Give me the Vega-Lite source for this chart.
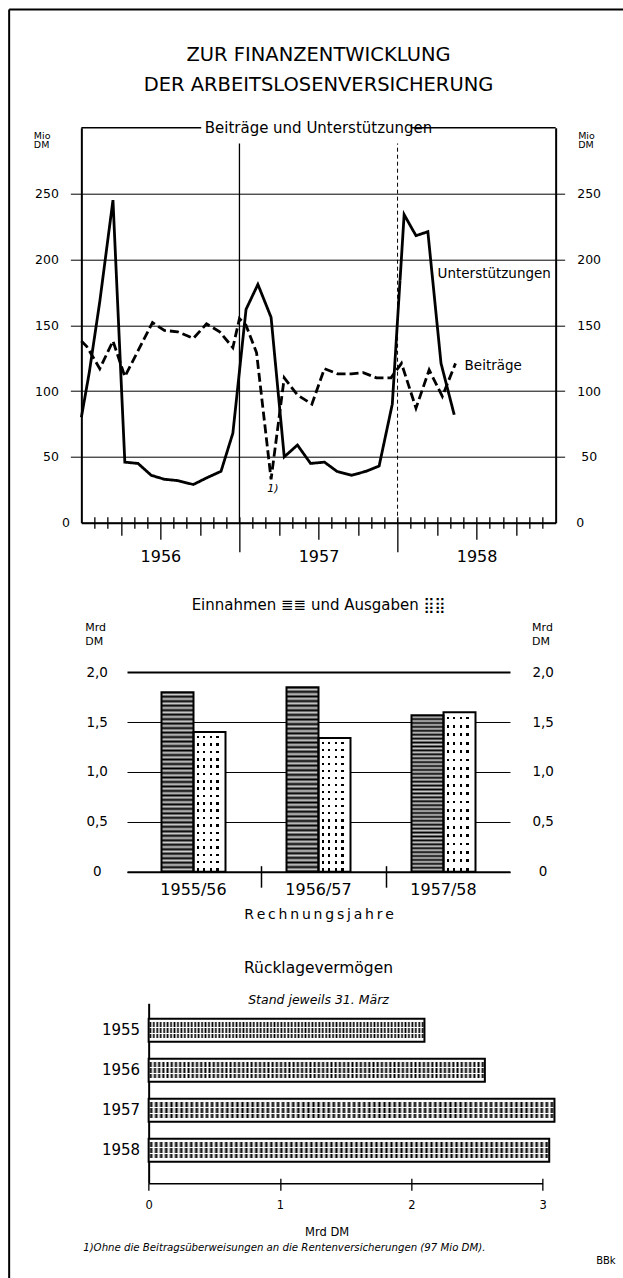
{
"$schema": "https://vega.github.io/schema/vega-lite/v6.json",
"background": "white",
"padding": {"left": 5, "top": 8.7, "right": 0, "bottom": 0},
"config": {
  "font": "DejaVu Sans",
  "view": {"stroke": null},
  "axis": {"labelColor": "#000", "titleColor": "#000", "domainColor": "#000", "tickColor": "#000", "gridColor": "#000", "labelFont": "DejaVu Sans", "titleFont": "DejaVu Sans", "titleFontWeight": "normal", "grid": false, "labelOverlap": false},
  "title": {"color": "#000", "subtitleColor": "#000", "fontWeight": "normal", "font": "DejaVu Sans", "subtitleFont": "DejaVu Sans"},
  "text": {"font": "DejaVu Sans", "color": "#000"}
},
"spacing": 131.3,
"bounds": "flush",
"center": true,
"vconcat": [
{
  "width": 474.3,
  "height": 395,
  "title": {"text": ["ZUR FINANZENTWICKLUNG", "DER ARBEITSLOSENVERSICHERUNG"], "fontSize": 19.5, "lineHeight": 30, "offset": -86.3, "anchor": "middle"},
  "resolve": {"scale": {"x": "independent", "y": "independent"}, "axis": {"x": "independent", "y": "independent"}},
  "layer": [
  {
    "data": {"values": [{}]},
    "mark": {"type": "point", "opacity": 0},
    "encoding": {
      "x": {"datum": 0, "type": "quantitative", "scale": {"domain": [0, 1], "range": [-72.7, 541.3]}, "axis": {"orient": "top", "offset": 118.7, "domain": true, "domainWidth": 2, "ticks": false, "labels": false, "grid": false, "title": null}},
      "y": {"datum": 0, "type": "quantitative", "scale": {"domain": [0, 1], "range": [1150.3, -118.7]}, "axis": {"orient": "left", "offset": 72.7, "domain": true, "domainWidth": 2, "ticks": false, "labels": false, "grid": false, "title": null}}
    }
  },
  {
  "data": {"values": [
    {"reihe": "Unterstützungen", "monat": 0, "wert": 80},
    {"reihe": "Unterstützungen", "monat": 0.6, "wert": 114},
    {"reihe": "Unterstützungen", "monat": 1.4, "wert": 168},
    {"reihe": "Unterstützungen", "monat": 2.4, "wert": 245},
    {"reihe": "Unterstützungen", "monat": 3.3, "wert": 46},
    {"reihe": "Unterstützungen", "monat": 4.3, "wert": 45},
    {"reihe": "Unterstützungen", "monat": 5.3, "wert": 36},
    {"reihe": "Unterstützungen", "monat": 6.3, "wert": 33},
    {"reihe": "Unterstützungen", "monat": 7.3, "wert": 32},
    {"reihe": "Unterstützungen", "monat": 8.5, "wert": 29},
    {"reihe": "Unterstützungen", "monat": 9.5, "wert": 34},
    {"reihe": "Unterstützungen", "monat": 10.6, "wert": 39},
    {"reihe": "Unterstützungen", "monat": 11.5, "wert": 68},
    {"reihe": "Unterstützungen", "monat": 12.5, "wert": 162},
    {"reihe": "Unterstützungen", "monat": 13.4, "wert": 181},
    {"reihe": "Unterstützungen", "monat": 14.4, "wert": 156},
    {"reihe": "Unterstützungen", "monat": 15.4, "wert": 50},
    {"reihe": "Unterstützungen", "monat": 16.4, "wert": 59},
    {"reihe": "Unterstützungen", "monat": 17.4, "wert": 45},
    {"reihe": "Unterstützungen", "monat": 18.45, "wert": 46},
    {"reihe": "Unterstützungen", "monat": 19.4, "wert": 39},
    {"reihe": "Unterstützungen", "monat": 20.5, "wert": 36},
    {"reihe": "Unterstützungen", "monat": 21.6, "wert": 39},
    {"reihe": "Unterstützungen", "monat": 22.6, "wert": 43},
    {"reihe": "Unterstützungen", "monat": 23.6, "wert": 90},
    {"reihe": "Unterstützungen", "monat": 24.5, "wert": 234},
    {"reihe": "Unterstützungen", "monat": 25.4, "wert": 218},
    {"reihe": "Unterstützungen", "monat": 26.3, "wert": 221},
    {"reihe": "Unterstützungen", "monat": 27.3, "wert": 121},
    {"reihe": "Unterstützungen", "monat": 28.3, "wert": 82},
    {"reihe": "Beiträge", "monat": 0, "wert": 138},
    {"reihe": "Beiträge", "monat": 0.4, "wert": 134},
    {"reihe": "Beiträge", "monat": 1.4, "wert": 117},
    {"reihe": "Beiträge", "monat": 2.4, "wert": 138},
    {"reihe": "Beiträge", "monat": 3.3, "wert": 111},
    {"reihe": "Beiträge", "monat": 5.4, "wert": 152},
    {"reihe": "Beiträge", "monat": 6.3, "wert": 146},
    {"reihe": "Beiträge", "monat": 7.3, "wert": 145},
    {"reihe": "Beiträge", "monat": 8.5, "wert": 140},
    {"reihe": "Beiträge", "monat": 9.5, "wert": 151},
    {"reihe": "Beiträge", "monat": 10.5, "wert": 145},
    {"reihe": "Beiträge", "monat": 11.5, "wert": 133},
    {"reihe": "Beiträge", "monat": 12.0, "wert": 155},
    {"reihe": "Beiträge", "monat": 12.5, "wert": 150},
    {"reihe": "Beiträge", "monat": 13.3, "wert": 129},
    {"reihe": "Beiträge", "monat": 14.4, "wert": 33},
    {"reihe": "Beiträge", "monat": 15.4, "wert": 110},
    {"reihe": "Beiträge", "monat": 16.4, "wert": 97},
    {"reihe": "Beiträge", "monat": 17.5, "wert": 90},
    {"reihe": "Beiträge", "monat": 18.45, "wert": 117},
    {"reihe": "Beiträge", "monat": 19.45, "wert": 113},
    {"reihe": "Beiträge", "monat": 20.5, "wert": 113},
    {"reihe": "Beiträge", "monat": 21.4, "wert": 114},
    {"reihe": "Beiträge", "monat": 22.4, "wert": 110},
    {"reihe": "Beiträge", "monat": 23.5, "wert": 110},
    {"reihe": "Beiträge", "monat": 24.3, "wert": 121},
    {"reihe": "Beiträge", "monat": 25.4, "wert": 87},
    {"reihe": "Beiträge", "monat": 26.4, "wert": 116},
    {"reihe": "Beiträge", "monat": 27.4, "wert": 96},
    {"reihe": "Beiträge", "monat": 28.4, "wert": 121}
  ]},
  "resolve": {"axis": {"x": "independent", "y": "independent"}},
  "layer": [
    {
      "data": {"values": [{}]},
      "mark": {"type": "rule", "color": "#000", "strokeWidth": 1.5},
      "encoding": {
        "x": {"datum": 0, "type": "quantitative", "scale": {"domain": [0, 36], "nice": false, "zero": false}, "axis": null},
        "x2": {"datum": 9.1},
        "y": {"datum": 300, "type": "quantitative", "scale": {"domain": [0, 300], "nice": false}, "axis": null}
      }
    },
    {
      "data": {"values": [{}]},
      "mark": {"type": "rule", "color": "#000", "strokeWidth": 1.5},
      "encoding": {
        "x": {"datum": 25.0, "type": "quantitative", "axis": null},
        "x2": {"datum": 36},
        "y": {"datum": 300, "type": "quantitative", "axis": null}
      }
    },
    {
      "data": {"values": [{}]},
      "mark": {"type": "rule", "color": "#000", "strokeWidth": 1.3},
      "encoding": {
        "x": {"datum": 12, "type": "quantitative", "axis": {"orient": "bottom", "values": [6, 18, 30], "labelExpr": "datum.value == 6 ? '1956' : datum.value == 18 ? '1957' : '1958'", "ticks": false, "domain": false, "grid": false, "labelPadding": 26, "labelFontSize": 16, "labelFlush": false, "title": null}},
        "y": {"datum": 0, "type": "quantitative", "axis": null},
        "y2": {"datum": 288}
      }
    },
    {
      "data": {"values": [{}]},
      "mark": {"type": "rule", "color": "#000", "strokeWidth": 1, "strokeDash": [4, 3]},
      "encoding": {
        "x": {"datum": 24, "type": "quantitative", "axis": {"orient": "top", "offset": -395, "values": [1,2,3,4,5,6,7,8,9,10,11,12,13,14,15,16,17,18,19,20,21,22,23,24,25,26,27,28,29,30,31,32,33,34,35], "labels": false, "domain": false, "ticks": true, "tickSize": 6, "tickWidth": 1.3, "grid": false, "title": null}},
        "y": {"datum": 0, "type": "quantitative", "axis": null},
        "y2": {"datum": 288}
      }
    },
    {
      "mark": {"type": "line", "color": "#000", "strokeWidth": 2.8},
      "encoding": {
        "x": {"field": "monat", "type": "quantitative", "axis": {"orient": "bottom", "values": [1,2,3,4,5,6,7,8,9,10,11,12,13,14,15,16,17,18,19,20,21,22,23,24,25,26,27,28,29,30,31,32,33,34,35], "labels": false, "ticks": true, "tickSize": {"condition": [{"test": "datum.value % 12 == 0", "value": 29}, {"test": "datum.value % 6 == 0", "value": 16.5}, {"test": "datum.value % 3 == 0", "value": 12.5}], "value": 5.5}, "tickWidth": 1.3, "domain": true, "domainWidth": 2, "grid": false, "title": null}},
        "y": {"field": "wert", "type": "quantitative", "axis": {"orient": "left", "values": [0, 50, 100, 150, 200, 250], "grid": true, "gridWidth": 1, "tickSize": {"condition": {"test": "datum.value == 0", "value": 0}, "value": 11}, "tickWidth": 1, "labelPadding": 12, "labelFontSize": 12.5, "domain": true, "domainWidth": 2, "title": ["Mio", "DM"], "titleAngle": 0, "titleAlign": "left", "titleBaseline": "top", "titleX": -48, "titleY": 3, "titleFontSize": 9.5, "titleLineHeight": 9}},
        "detail": {"field": "reihe"},
        "strokeDash": {"field": "reihe", "type": "nominal", "scale": {"domain": ["Unterstützungen", "Beiträge"], "range": [[1, 0], [9, 4]]}, "legend": null}
      }
    },
    {
      "data": {"values": [{}]},
      "mark": {"type": "text", "fontSize": 15, "baseline": "middle", "align": "center"},
      "encoding": {
        "x": {"datum": 18, "type": "quantitative", "axis": null},
        "y": {"datum": 300, "type": "quantitative", "axis": {"orient": "right", "values": [0, 50, 100, 150, 200, 250], "grid": false, "tickSize": {"condition": {"test": "datum.value == 0", "value": 0}, "value": 9}, "tickWidth": 1, "labelPadding": 24, "labelAlign": "center", "labelFontSize": 12.5, "domain": true, "domainWidth": 2, "title": ["Mio", "DM"], "titleAngle": 0, "titleAlign": "left", "titleBaseline": "top", "titleX": 22, "titleY": 3, "titleFontSize": 9.5, "titleLineHeight": 9}},
        "text": {"value": "Beiträge und Unterstützungen"}
      }
    },
    {
      "data": {"values": [{}]},
      "mark": {"type": "text", "fontSize": 13.5, "baseline": "alphabetic", "align": "left"},
      "encoding": {
        "x": {"datum": 27.04, "type": "quantitative", "axis": null},
        "y": {"datum": 186, "type": "quantitative", "axis": null},
        "text": {"value": "Unterstützungen"}
      }
    },
    {
      "data": {"values": [{}]},
      "mark": {"type": "text", "fontSize": 13.5, "baseline": "alphabetic", "align": "left"},
      "encoding": {
        "x": {"datum": 29.09, "type": "quantitative", "axis": null},
        "y": {"datum": 116, "type": "quantitative", "axis": null},
        "text": {"value": "Beiträge"}
      }
    },
    {
      "data": {"values": [{}]},
      "mark": {"type": "text", "fontSize": 11, "fontStyle": "italic", "baseline": "middle", "align": "center"},
      "encoding": {
        "x": {"datum": 14.54, "type": "quantitative", "axis": null},
        "y": {"datum": 25.6, "type": "quantitative", "axis": null},
        "text": {"value": "1)"}
      }
    }
  ]
  }
  ]
},
{
  "width": 383,
  "height": 217.7,
  "title": {"text": "Einnahmen ≣≣ und Ausgaben ⣿⣿", "fontSize": 15, "offset": 9, "anchor": "middle"},
  "data": {"values": [
    {"jahr": "1955/56", "art": "Einnahmen", "wert": 1.80},
    {"jahr": "1955/56", "art": "Ausgaben", "wert": 1.40},
    {"jahr": "1956/57", "art": "Einnahmen", "wert": 1.85},
    {"jahr": "1956/57", "art": "Ausgaben", "wert": 1.34},
    {"jahr": "1957/58", "art": "Einnahmen", "wert": 1.57},
    {"jahr": "1957/58", "art": "Ausgaben", "wert": 1.60}
  ]},
  "resolve": {"axis": {"x": "independent", "y": "independent"}},
  "layer": [
    {
      "transform": [{"filter": "datum.art == 'Einnahmen'"}],
      "mark": {"type": "bar", "fill": {"gradient": "linear", "x1": 0, "y1": 0, "x2": 0, "y2": 1, "stops": [
        {"offset": 0, "color": "#000"}, {"offset": 0.0125, "color": "#ccc"}, {"offset": 0.025, "color": "#000"}, {"offset": 0.0375, "color": "#ccc"}, {"offset": 0.05, "color": "#000"}, {"offset": 0.0625, "color": "#ccc"}, {"offset": 0.075, "color": "#000"}, {"offset": 0.0875, "color": "#ccc"},
        {"offset": 0.1, "color": "#000"}, {"offset": 0.1125, "color": "#ccc"}, {"offset": 0.125, "color": "#000"}, {"offset": 0.1375, "color": "#ccc"}, {"offset": 0.15, "color": "#000"}, {"offset": 0.1625, "color": "#ccc"}, {"offset": 0.175, "color": "#000"}, {"offset": 0.1875, "color": "#ccc"},
        {"offset": 0.2, "color": "#000"}, {"offset": 0.2125, "color": "#ccc"}, {"offset": 0.225, "color": "#000"}, {"offset": 0.2375, "color": "#ccc"}, {"offset": 0.25, "color": "#000"}, {"offset": 0.2625, "color": "#ccc"}, {"offset": 0.275, "color": "#000"}, {"offset": 0.2875, "color": "#ccc"},
        {"offset": 0.3, "color": "#000"}, {"offset": 0.3125, "color": "#ccc"}, {"offset": 0.325, "color": "#000"}, {"offset": 0.3375, "color": "#ccc"}, {"offset": 0.35, "color": "#000"}, {"offset": 0.3625, "color": "#ccc"}, {"offset": 0.375, "color": "#000"}, {"offset": 0.3875, "color": "#ccc"},
        {"offset": 0.4, "color": "#000"}, {"offset": 0.4125, "color": "#ccc"}, {"offset": 0.425, "color": "#000"}, {"offset": 0.4375, "color": "#ccc"}, {"offset": 0.45, "color": "#000"}, {"offset": 0.4625, "color": "#ccc"}, {"offset": 0.475, "color": "#000"}, {"offset": 0.4875, "color": "#ccc"},
        {"offset": 0.5, "color": "#000"}, {"offset": 0.5125, "color": "#ccc"}, {"offset": 0.525, "color": "#000"}, {"offset": 0.5375, "color": "#ccc"}, {"offset": 0.55, "color": "#000"}, {"offset": 0.5625, "color": "#ccc"}, {"offset": 0.575, "color": "#000"}, {"offset": 0.5875, "color": "#ccc"},
        {"offset": 0.6, "color": "#000"}, {"offset": 0.6125, "color": "#ccc"}, {"offset": 0.625, "color": "#000"}, {"offset": 0.6375, "color": "#ccc"}, {"offset": 0.65, "color": "#000"}, {"offset": 0.6625, "color": "#ccc"}, {"offset": 0.675, "color": "#000"}, {"offset": 0.6875, "color": "#ccc"},
        {"offset": 0.7, "color": "#000"}, {"offset": 0.7125, "color": "#ccc"}, {"offset": 0.725, "color": "#000"}, {"offset": 0.7375, "color": "#ccc"}, {"offset": 0.75, "color": "#000"}, {"offset": 0.7625, "color": "#ccc"}, {"offset": 0.775, "color": "#000"}, {"offset": 0.7875, "color": "#ccc"},
        {"offset": 0.8, "color": "#000"}, {"offset": 0.8125, "color": "#ccc"}, {"offset": 0.825, "color": "#000"}, {"offset": 0.8375, "color": "#ccc"}, {"offset": 0.85, "color": "#000"}, {"offset": 0.8625, "color": "#ccc"}, {"offset": 0.875, "color": "#000"}, {"offset": 0.8875, "color": "#ccc"},
        {"offset": 0.9, "color": "#000"}, {"offset": 0.9125, "color": "#ccc"}, {"offset": 0.925, "color": "#000"}, {"offset": 0.9375, "color": "#ccc"}, {"offset": 0.95, "color": "#000"}, {"offset": 0.9625, "color": "#ccc"}, {"offset": 0.975, "color": "#000"}, {"offset": 0.9875, "color": "#ccc"},
        {"offset": 1, "color": "#000"}
      ]}},
      "encoding": {
        "x": {"field": "jahr", "type": "nominal", "scale": {"domain": ["1955/56", "1956/57", "1957/58"], "paddingInner": 0.488, "paddingOuter": 0.276}, "axis": {"orient": "bottom", "values": ["1956/57", "1957/58"], "bandPosition": -0.39, "labels": false, "domain": false, "ticks": true, "tickSize": 15.5, "tickWidth": 1.5, "grid": false, "title": null}},
        "xOffset": {"field": "art", "type": "nominal", "scale": {"domain": ["Einnahmen", "Ausgaben"], "paddingInner": 0, "paddingOuter": 0}},
        "y": {"field": "wert", "type": "quantitative", "scale": {"domain": [0, 2.1835], "nice": false, "zero": true}, "axis": {"orient": "right", "values": [0, 0.5, 1, 1.5, 2], "labelExpr": "datum.value == 0 ? '0' : replace(format(datum.value, '.1f'), '.', ',')", "labelAlign": "center", "labelPadding": 32.6, "labelFontSize": 13.5, "ticks": false, "domain": false, "grid": false, "title": ["Mrd", "DM"], "titleAngle": 0, "titleAlign": "left", "titleBaseline": "top", "titleX": 21.6, "titleY": -32.3, "titleFontSize": 11, "titleLineHeight": 13.5}}
      }
    },
    {
      "transform": [{"filter": "datum.art == 'Ausgaben'"}],
      "mark": {"type": "bar", "fill": {"gradient": "linear", "x1": 0, "y1": 0, "x2": 1, "y2": 0, "stops": [
        {"offset": 0, "color": "#fff"}, {"offset": 0.0975, "color": "#fff"}, {"offset": 0.0975, "color": "#000"}, {"offset": 0.1725, "color": "#000"}, {"offset": 0.1725, "color": "#fff"}, {"offset": 0.2995, "color": "#fff"}, {"offset": 0.2995, "color": "#000"}, {"offset": 0.3745, "color": "#000"}, {"offset": 0.3745, "color": "#fff"}, {"offset": 0.5025, "color": "#fff"}, {"offset": 0.5025, "color": "#000"}, {"offset": 0.5775, "color": "#000"}, {"offset": 0.5775, "color": "#fff"}, {"offset": 0.7075, "color": "#fff"}, {"offset": 0.7075, "color": "#000"}, {"offset": 0.7825, "color": "#000"}, {"offset": 0.7825, "color": "#fff"}, {"offset": 1, "color": "#fff"}
      ]}},
      "encoding": {
        "x": {"field": "jahr", "type": "nominal", "axis": {"orient": "top", "offset": -217.7, "values": ["1956/57", "1957/58"], "bandPosition": -0.39, "labels": false, "domain": false, "ticks": true, "tickSize": 6, "tickWidth": 1.5, "grid": false, "title": null}},
        "xOffset": {"field": "art", "type": "nominal"},
        "y": {"field": "wert", "type": "quantitative", "axis": null}
      }
    },
    {
      "transform": [{"filter": "datum.art == 'Ausgaben'"}],
      "mark": {"type": "bar", "fill": {"gradient": "linear", "x1": 0, "y1": 0, "x2": 0, "y2": 1, "stops": [
        {"offset": 0, "color": "#fff"}, {"offset": 0.028, "color": "#fff"}, {"offset": 0.028, "color": "rgba(255,255,255,0)"}, {"offset": 0.0455, "color": "rgba(255,255,255,0)"}, {"offset": 0.0455, "color": "#fff"},
        {"offset": 0.0806, "color": "#fff"}, {"offset": 0.0806, "color": "rgba(255,255,255,0)"}, {"offset": 0.0981, "color": "rgba(255,255,255,0)"}, {"offset": 0.0981, "color": "#fff"},
        {"offset": 0.1333, "color": "#fff"}, {"offset": 0.1333, "color": "rgba(255,255,255,0)"}, {"offset": 0.1508, "color": "rgba(255,255,255,0)"}, {"offset": 0.1508, "color": "#fff"},
        {"offset": 0.1859, "color": "#fff"}, {"offset": 0.1859, "color": "rgba(255,255,255,0)"}, {"offset": 0.2034, "color": "rgba(255,255,255,0)"}, {"offset": 0.2034, "color": "#fff"},
        {"offset": 0.2385, "color": "#fff"}, {"offset": 0.2385, "color": "rgba(255,255,255,0)"}, {"offset": 0.256, "color": "rgba(255,255,255,0)"}, {"offset": 0.256, "color": "#fff"},
        {"offset": 0.2912, "color": "#fff"}, {"offset": 0.2912, "color": "rgba(255,255,255,0)"}, {"offset": 0.3087, "color": "rgba(255,255,255,0)"}, {"offset": 0.3087, "color": "#fff"},
        {"offset": 0.3438, "color": "#fff"}, {"offset": 0.3438, "color": "rgba(255,255,255,0)"}, {"offset": 0.3613, "color": "rgba(255,255,255,0)"}, {"offset": 0.3613, "color": "#fff"},
        {"offset": 0.3964, "color": "#fff"}, {"offset": 0.3964, "color": "rgba(255,255,255,0)"}, {"offset": 0.4139, "color": "rgba(255,255,255,0)"}, {"offset": 0.4139, "color": "#fff"},
        {"offset": 0.4491, "color": "#fff"}, {"offset": 0.4491, "color": "rgba(255,255,255,0)"}, {"offset": 0.4666, "color": "rgba(255,255,255,0)"}, {"offset": 0.4666, "color": "#fff"},
        {"offset": 0.5017, "color": "#fff"}, {"offset": 0.5017, "color": "rgba(255,255,255,0)"}, {"offset": 0.5192, "color": "rgba(255,255,255,0)"}, {"offset": 0.5192, "color": "#fff"},
        {"offset": 0.5543, "color": "#fff"}, {"offset": 0.5543, "color": "rgba(255,255,255,0)"}, {"offset": 0.5718, "color": "rgba(255,255,255,0)"}, {"offset": 0.5718, "color": "#fff"},
        {"offset": 0.6069, "color": "#fff"}, {"offset": 0.6069, "color": "rgba(255,255,255,0)"}, {"offset": 0.6244, "color": "rgba(255,255,255,0)"}, {"offset": 0.6244, "color": "#fff"},
        {"offset": 0.6596, "color": "#fff"}, {"offset": 0.6596, "color": "rgba(255,255,255,0)"}, {"offset": 0.6771, "color": "rgba(255,255,255,0)"}, {"offset": 0.6771, "color": "#fff"},
        {"offset": 0.7122, "color": "#fff"}, {"offset": 0.7122, "color": "rgba(255,255,255,0)"}, {"offset": 0.7297, "color": "rgba(255,255,255,0)"}, {"offset": 0.7297, "color": "#fff"},
        {"offset": 0.7648, "color": "#fff"}, {"offset": 0.7648, "color": "rgba(255,255,255,0)"}, {"offset": 0.7823, "color": "rgba(255,255,255,0)"}, {"offset": 0.7823, "color": "#fff"},
        {"offset": 0.8175, "color": "#fff"}, {"offset": 0.8175, "color": "rgba(255,255,255,0)"}, {"offset": 0.835, "color": "rgba(255,255,255,0)"}, {"offset": 0.835, "color": "#fff"},
        {"offset": 0.8701, "color": "#fff"}, {"offset": 0.8701, "color": "rgba(255,255,255,0)"}, {"offset": 0.8876, "color": "rgba(255,255,255,0)"}, {"offset": 0.8876, "color": "#fff"},
        {"offset": 0.9227, "color": "#fff"}, {"offset": 0.9227, "color": "rgba(255,255,255,0)"}, {"offset": 0.9402, "color": "rgba(255,255,255,0)"}, {"offset": 0.9402, "color": "#fff"},
        {"offset": 0.9754, "color": "#fff"}, {"offset": 0.9754, "color": "rgba(255,255,255,0)"}, {"offset": 0.9929, "color": "rgba(255,255,255,0)"}, {"offset": 0.9929, "color": "#fff"},
        {"offset": 1, "color": "#fff"}
      ]}},
      "encoding": {
        "x": {"field": "jahr", "type": "nominal", "axis": null},
        "xOffset": {"field": "art", "type": "nominal"},
        "y": {"field": "wert", "type": "quantitative", "axis": null}
      }
    },
    {
      "mark": {"type": "bar", "filled": false, "color": "#000", "strokeWidth": 2},
      "encoding": {
        "x": {"field": "jahr", "type": "nominal", "axis": {"orient": "bottom", "labelFontSize": 16, "labelPadding": 10, "labelAngle": 0, "ticks": false, "domain": true, "domainWidth": 2, "grid": false, "title": "R\u2009e\u2009c\u2009h\u2009n\u2009u\u2009n\u2009g\u2009s\u2009j\u2009a\u2009h\u2009r\u2009e", "titleFontSize": 14, "titleBaseline": "top", "titleY": 35.5}},
        "xOffset": {"field": "art", "type": "nominal"},
        "y": {"field": "wert", "type": "quantitative", "axis": {"orient": "left", "values": [0, 0.5, 1, 1.5, 2], "labelExpr": "datum.value == 0 ? '0' : replace(format(datum.value, '.1f'), '.', ',')", "labelAlign": "center", "labelPadding": 30.3, "labelFontSize": 13.5, "ticks": false, "domain": false, "grid": true, "gridWidth": {"condition": {"test": "datum.value == 2", "value": 2}, "value": 1}, "title": ["Mrd", "DM"], "titleAngle": 0, "titleAlign": "left", "titleBaseline": "top", "titleX": -42.3, "titleY": -32.3, "titleFontSize": 11, "titleLineHeight": 13.5}}
      }
    }
  ]
},
{
  "width": 448.3,
  "height": 180,
  "title": {"text": "Rücklagevermögen", "subtitle": "Stand jeweils 31. März", "fontSize": 15.5, "subtitleFontSize": 12.5, "subtitleFontStyle": "italic", "subtitlePadding": 17, "offset": -3, "anchor": "middle"},
  "data": {"values": [
    {"jahr": "1955", "wert": 2.10},
    {"jahr": "1956", "wert": 2.56},
    {"jahr": "1957", "wert": 3.09},
    {"jahr": "1958", "wert": 3.05}
  ]},
  "resolve": {"axis": {"x": "independent", "y": "independent"}},
  "layer": [
    {
      "mark": {"type": "bar", "fill": {"gradient": "linear", "x1": 0, "y1": 0, "x2": 0, "y2": 1, "stops": [
        {"offset": 0, "color": "#fff"}, {"offset": 0.15, "color": "#fff"}, {"offset": 0.15, "color": "#000"}, {"offset": 0.35, "color": "#000"}, {"offset": 0.35, "color": "#fff"}, {"offset": 0.4, "color": "#fff"}, {"offset": 0.4, "color": "#000"}, {"offset": 0.6, "color": "#000"}, {"offset": 0.6, "color": "#fff"}, {"offset": 0.65, "color": "#fff"}, {"offset": 0.65, "color": "#000"}, {"offset": 0.85, "color": "#000"}, {"offset": 0.85, "color": "#fff"}, {"offset": 1, "color": "#fff"}
      ]}},
      "encoding": {
        "x": {"field": "wert", "type": "quantitative", "scale": {"domain": [0, 3], "range": [54.3, 448.3], "nice": false, "zero": true}, "axis": {"orient": "top", "offset": -180, "values": [1, 2, 3], "tickSize": 5, "tickWidth": 1.3, "labels": false, "domain": false, "grid": false, "title": null}},
        "y": {"field": "jahr", "type": "nominal", "scale": {"domain": ["1955", "1956", "1957", "1958"], "paddingInner": 0.425, "paddingOuter": 0.4625, "align": 0.419}, "axis": {"orient": "right", "labels": false, "ticks": false, "domain": false, "grid": false, "title": "BBk", "titleAngle": 0, "titleAlign": "left", "titleBaseline": "top", "titleX": 53, "titleY": 252, "titleFontSize": 10}}
      }
    },
    {
      "mark": {"type": "bar", "fill": {"gradient": "linear", "x1": 0, "y1": 0, "x2": 1, "y2": 0, "stops": [
        {"offset": 0, "color": "#fff"}, {"offset": 0.00625, "color": "rgba(255,255,255,0)"}, {"offset": 0.0125, "color": "#fff"}, {"offset": 0.01875, "color": "rgba(255,255,255,0)"}, {"offset": 0.025, "color": "#fff"}, {"offset": 0.03125, "color": "rgba(255,255,255,0)"}, {"offset": 0.0375, "color": "#fff"}, {"offset": 0.04375, "color": "rgba(255,255,255,0)"}, {"offset": 0.05, "color": "#fff"}, {"offset": 0.05625, "color": "rgba(255,255,255,0)"}, {"offset": 0.0625, "color": "#fff"}, {"offset": 0.06875, "color": "rgba(255,255,255,0)"}, {"offset": 0.075, "color": "#fff"}, {"offset": 0.08125, "color": "rgba(255,255,255,0)"}, {"offset": 0.0875, "color": "#fff"}, {"offset": 0.09375, "color": "rgba(255,255,255,0)"},
        {"offset": 0.1, "color": "#fff"}, {"offset": 0.10625, "color": "rgba(255,255,255,0)"}, {"offset": 0.1125, "color": "#fff"}, {"offset": 0.11875, "color": "rgba(255,255,255,0)"}, {"offset": 0.125, "color": "#fff"}, {"offset": 0.13125, "color": "rgba(255,255,255,0)"}, {"offset": 0.1375, "color": "#fff"}, {"offset": 0.14375, "color": "rgba(255,255,255,0)"}, {"offset": 0.15, "color": "#fff"}, {"offset": 0.15625, "color": "rgba(255,255,255,0)"}, {"offset": 0.1625, "color": "#fff"}, {"offset": 0.16875, "color": "rgba(255,255,255,0)"}, {"offset": 0.175, "color": "#fff"}, {"offset": 0.18125, "color": "rgba(255,255,255,0)"}, {"offset": 0.1875, "color": "#fff"}, {"offset": 0.19375, "color": "rgba(255,255,255,0)"},
        {"offset": 0.2, "color": "#fff"}, {"offset": 0.20625, "color": "rgba(255,255,255,0)"}, {"offset": 0.2125, "color": "#fff"}, {"offset": 0.21875, "color": "rgba(255,255,255,0)"}, {"offset": 0.225, "color": "#fff"}, {"offset": 0.23125, "color": "rgba(255,255,255,0)"}, {"offset": 0.2375, "color": "#fff"}, {"offset": 0.24375, "color": "rgba(255,255,255,0)"}, {"offset": 0.25, "color": "#fff"}, {"offset": 0.25625, "color": "rgba(255,255,255,0)"}, {"offset": 0.2625, "color": "#fff"}, {"offset": 0.26875, "color": "rgba(255,255,255,0)"}, {"offset": 0.275, "color": "#fff"}, {"offset": 0.28125, "color": "rgba(255,255,255,0)"}, {"offset": 0.2875, "color": "#fff"}, {"offset": 0.29375, "color": "rgba(255,255,255,0)"},
        {"offset": 0.3, "color": "#fff"}, {"offset": 0.30625, "color": "rgba(255,255,255,0)"}, {"offset": 0.3125, "color": "#fff"}, {"offset": 0.31875, "color": "rgba(255,255,255,0)"}, {"offset": 0.325, "color": "#fff"}, {"offset": 0.33125, "color": "rgba(255,255,255,0)"}, {"offset": 0.3375, "color": "#fff"}, {"offset": 0.34375, "color": "rgba(255,255,255,0)"}, {"offset": 0.35, "color": "#fff"}, {"offset": 0.35625, "color": "rgba(255,255,255,0)"}, {"offset": 0.3625, "color": "#fff"}, {"offset": 0.36875, "color": "rgba(255,255,255,0)"}, {"offset": 0.375, "color": "#fff"}, {"offset": 0.38125, "color": "rgba(255,255,255,0)"}, {"offset": 0.3875, "color": "#fff"}, {"offset": 0.39375, "color": "rgba(255,255,255,0)"},
        {"offset": 0.4, "color": "#fff"}, {"offset": 0.40625, "color": "rgba(255,255,255,0)"}, {"offset": 0.4125, "color": "#fff"}, {"offset": 0.41875, "color": "rgba(255,255,255,0)"}, {"offset": 0.425, "color": "#fff"}, {"offset": 0.43125, "color": "rgba(255,255,255,0)"}, {"offset": 0.4375, "color": "#fff"}, {"offset": 0.44375, "color": "rgba(255,255,255,0)"}, {"offset": 0.45, "color": "#fff"}, {"offset": 0.45625, "color": "rgba(255,255,255,0)"}, {"offset": 0.4625, "color": "#fff"}, {"offset": 0.46875, "color": "rgba(255,255,255,0)"}, {"offset": 0.475, "color": "#fff"}, {"offset": 0.48125, "color": "rgba(255,255,255,0)"}, {"offset": 0.4875, "color": "#fff"}, {"offset": 0.49375, "color": "rgba(255,255,255,0)"},
        {"offset": 0.5, "color": "#fff"}, {"offset": 0.50625, "color": "rgba(255,255,255,0)"}, {"offset": 0.5125, "color": "#fff"}, {"offset": 0.51875, "color": "rgba(255,255,255,0)"}, {"offset": 0.525, "color": "#fff"}, {"offset": 0.53125, "color": "rgba(255,255,255,0)"}, {"offset": 0.5375, "color": "#fff"}, {"offset": 0.54375, "color": "rgba(255,255,255,0)"}, {"offset": 0.55, "color": "#fff"}, {"offset": 0.55625, "color": "rgba(255,255,255,0)"}, {"offset": 0.5625, "color": "#fff"}, {"offset": 0.56875, "color": "rgba(255,255,255,0)"}, {"offset": 0.575, "color": "#fff"}, {"offset": 0.58125, "color": "rgba(255,255,255,0)"}, {"offset": 0.5875, "color": "#fff"}, {"offset": 0.59375, "color": "rgba(255,255,255,0)"},
        {"offset": 0.6, "color": "#fff"}, {"offset": 0.60625, "color": "rgba(255,255,255,0)"}, {"offset": 0.6125, "color": "#fff"}, {"offset": 0.61875, "color": "rgba(255,255,255,0)"}, {"offset": 0.625, "color": "#fff"}, {"offset": 0.63125, "color": "rgba(255,255,255,0)"}, {"offset": 0.6375, "color": "#fff"}, {"offset": 0.64375, "color": "rgba(255,255,255,0)"}, {"offset": 0.65, "color": "#fff"}, {"offset": 0.65625, "color": "rgba(255,255,255,0)"}, {"offset": 0.6625, "color": "#fff"}, {"offset": 0.66875, "color": "rgba(255,255,255,0)"}, {"offset": 0.675, "color": "#fff"}, {"offset": 0.68125, "color": "rgba(255,255,255,0)"}, {"offset": 0.6875, "color": "#fff"}, {"offset": 0.69375, "color": "rgba(255,255,255,0)"},
        {"offset": 0.7, "color": "#fff"}, {"offset": 0.70625, "color": "rgba(255,255,255,0)"}, {"offset": 0.7125, "color": "#fff"}, {"offset": 0.71875, "color": "rgba(255,255,255,0)"}, {"offset": 0.725, "color": "#fff"}, {"offset": 0.73125, "color": "rgba(255,255,255,0)"}, {"offset": 0.7375, "color": "#fff"}, {"offset": 0.74375, "color": "rgba(255,255,255,0)"}, {"offset": 0.75, "color": "#fff"}, {"offset": 0.75625, "color": "rgba(255,255,255,0)"}, {"offset": 0.7625, "color": "#fff"}, {"offset": 0.76875, "color": "rgba(255,255,255,0)"}, {"offset": 0.775, "color": "#fff"}, {"offset": 0.78125, "color": "rgba(255,255,255,0)"}, {"offset": 0.7875, "color": "#fff"}, {"offset": 0.79375, "color": "rgba(255,255,255,0)"},
        {"offset": 0.8, "color": "#fff"}, {"offset": 0.80625, "color": "rgba(255,255,255,0)"}, {"offset": 0.8125, "color": "#fff"}, {"offset": 0.81875, "color": "rgba(255,255,255,0)"}, {"offset": 0.825, "color": "#fff"}, {"offset": 0.83125, "color": "rgba(255,255,255,0)"}, {"offset": 0.8375, "color": "#fff"}, {"offset": 0.84375, "color": "rgba(255,255,255,0)"}, {"offset": 0.85, "color": "#fff"}, {"offset": 0.85625, "color": "rgba(255,255,255,0)"}, {"offset": 0.8625, "color": "#fff"}, {"offset": 0.86875, "color": "rgba(255,255,255,0)"}, {"offset": 0.875, "color": "#fff"}, {"offset": 0.88125, "color": "rgba(255,255,255,0)"}, {"offset": 0.8875, "color": "#fff"}, {"offset": 0.89375, "color": "rgba(255,255,255,0)"},
        {"offset": 0.9, "color": "#fff"}, {"offset": 0.90625, "color": "rgba(255,255,255,0)"}, {"offset": 0.9125, "color": "#fff"}, {"offset": 0.91875, "color": "rgba(255,255,255,0)"}, {"offset": 0.925, "color": "#fff"}, {"offset": 0.93125, "color": "rgba(255,255,255,0)"}, {"offset": 0.9375, "color": "#fff"}, {"offset": 0.94375, "color": "rgba(255,255,255,0)"}, {"offset": 0.95, "color": "#fff"}, {"offset": 0.95625, "color": "rgba(255,255,255,0)"}, {"offset": 0.9625, "color": "#fff"}, {"offset": 0.96875, "color": "rgba(255,255,255,0)"}, {"offset": 0.975, "color": "#fff"}, {"offset": 0.98125, "color": "rgba(255,255,255,0)"}, {"offset": 0.9875, "color": "#fff"}, {"offset": 0.99375, "color": "rgba(255,255,255,0)"},
        {"offset": 1, "color": "#fff"}
      ]}},
      "encoding": {
        "x": {"field": "wert", "type": "quantitative", "axis": {"orient": "bottom", "domain": false, "ticks": false, "labels": false, "grid": false, "title": "1)Ohne die Beitragsüberweisungen an die Rentenversicherungen (97 Mio DM).", "titleFontStyle": "italic", "titleFontSize": 10.2, "titleAlign": "left", "titleBaseline": "top", "titleX": -11.7, "titleY": 59}},
        "y": {"field": "jahr", "type": "nominal", "axis": null}
      }
    },
    {
      "mark": {"type": "bar", "filled": false, "color": "#000", "strokeWidth": 2},
      "encoding": {
        "x": {"field": "wert", "type": "quantitative", "axis": {"orient": "bottom", "values": [0, 1, 2, 3], "tickSize": 7, "tickWidth": 1.3, "labelFontSize": 11.5, "labelPadding": 9, "labelFlush": false, "domain": true, "domainWidth": 1.5, "grid": false, "title": "Mrd DM", "titleFontSize": 11.5, "titleBaseline": "top", "titleX": 232.3, "titleY": 43.3}},
        "y": {"field": "jahr", "type": "nominal", "axis": {"orient": "left", "offset": -54.3, "labelFontSize": 15, "labelPadding": 9, "ticks": false, "domain": true, "domainWidth": 2, "grid": false, "title": null}}
      }
    }
  ]
}
]
}
